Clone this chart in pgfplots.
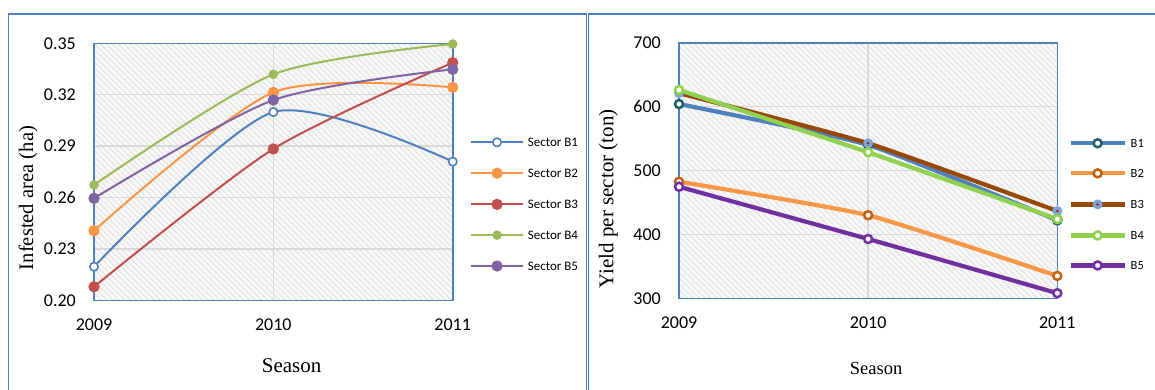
\documentclass[border=0pt]{standalone}
\usepackage{pgfplots}
\pgfplotsset{compat=1.18}
\usepackage{fontspec}
\setmainfont{Liberation Serif}
\newfontfamily\carlito{Carlito}
\usetikzlibrary{patterns.meta}

\definecolor{frameblue}{RGB}{79,129,189}
\definecolor{gridgray}{RGB}{217,217,217}
\definecolor{bggray}{RGB}{248,248,248}
\definecolor{hatchgray}{RGB}{228,228,228}
% left panel series
\definecolor{lB1}{RGB}{79,129,189}
\definecolor{lB2}{RGB}{247,150,70}
\definecolor{lB3}{RGB}{192,80,77}
\definecolor{lB4}{RGB}{155,187,89}
\definecolor{lB5}{RGB}{128,100,162}
% right panel series
\definecolor{rB1}{RGB}{79,129,189}
\definecolor{rB1e}{RGB}{33,95,110}
\definecolor{rB2}{RGB}{247,150,70}
\definecolor{rB2e}{RGB}{197,96,16}
\definecolor{rB3}{RGB}{152,72,7}
\definecolor{rB3f}{RGB}{125,165,214}
\definecolor{rB3d}{RGB}{160,40,42}
\definecolor{rB4}{RGB}{146,208,80}
\definecolor{rB5}{RGB}{112,48,160}

\pgfdeclareplotmark{bthree}{%
  \pgfpathcircle{\pgfpointorigin}{5pt}%
  \pgfsetfillcolor{rB3f}\pgfusepathqfill
  \pgfpathcircle{\pgfpointorigin}{1.5pt}%
  \pgfsetfillcolor{rB3d}\pgfusepathqfill}

\pgfplotsset{
  excel/.style={
    scale only axis, clip=false,
    axis line style={draw=frameblue, line width=1.6pt},
    grid=major, major grid style={draw=gridgray, line width=1.4pt},
    major tick length=0pt, tick style={draw=none},
    axis background/.style={fill=bggray, postaction={pattern={Lines[angle=-45,distance=4.2pt,line width=1.1pt]}, pattern color=hatchgray}},
    /pgf/number format/assume math mode=true,
    ticklabel style={font=\carlito\fontsize{18}{21}\selectfont},
    yticklabel style={anchor=east, inner sep=0pt, xshift=-18pt},
    xticklabel style={anchor=north, inner sep=0pt, yshift=-18.5pt},
    xtick={2009,2010,2011}, xticklabels={2009,2010,2011},
    xmin=2009, xmax=2011,
    legend cell align=left,
    legend style={draw=none, fill=none, inner sep=0pt, anchor=west, row sep=22pt, column sep=4pt, nodes={inner sep=0pt, text depth=0pt}},
  },
}

\begin{document}
\begin{tikzpicture}
\useasboundingbox (0pt,0pt) rectangle (1155pt,389pt);
\draw[frameblue, line width=1.5pt] (8.3pt,-20pt) -- (8.3pt,375pt) -- (586.6pt,375pt) -- (586.6pt,-20pt);
\draw[frameblue, line width=1.5pt] (588.6pt,-20pt) -- (588.6pt,375pt) -- (1170pt,375pt);

\begin{axis}[excel,
  at={(94pt,88.5pt)}, anchor=south west,
  width=358.7pt, height=257.2pt,
  ymin=0.20, ymax=0.35,
  ytick={0.20,0.23,0.26,0.29,0.32,0.35},
  yticklabel style={/pgf/number format/.cd, fixed, fixed zerofill, precision=2},
  xlabel={Season},
  xlabel style={at={(rel axis cs:0.551,-0.2547)}, anchor=center, font=\fontsize{21}{24}\selectfont},
  ylabel={Infested area (ha)},
  ylabel style={at={(rel axis cs:-0.184,0.3985)}, anchor=center, font=\fontsize{20.6}{24}\selectfont},
  legend style={at={(rel axis cs:1.0482,0.3738)}, font=\carlito\fontsize{13}{15}\selectfont},
  legend image code/.code={\draw[mark repeat=2,mark phase=2,#1] plot coordinates {(0pt,0pt) (25.85pt,0pt) (51.7pt,0pt)};},
]
\addplot[color=lB1, line width=2pt, smooth, tension=0.45, mark=*, mark size=4.2pt, mark options={fill=white, draw=lB1, line width=1.6pt}]
  coordinates {(2009,0.2197) (2010,0.3099) (2011,0.2810)};
\addplot[color=lB2, line width=2pt, smooth, tension=0.45, mark=*, mark size=4.6pt, mark options={fill=lB2, draw=lB2}]
  coordinates {(2009,0.2407) (2010,0.3214) (2011,0.3243)};
\addplot[color=lB3, line width=2pt, smooth, tension=0.45, mark=*, mark size=4.6pt, mark options={fill=lB3, draw=lB3}]
  coordinates {(2009,0.2080) (2010,0.2884) (2011,0.3387)};
\addplot[color=lB4, line width=2pt, smooth, tension=0.45, mark=*, mark size=3.7pt, mark options={fill=lB4, draw=lB4}]
  coordinates {(2009,0.2674) (2010,0.3319) (2011,0.3496)};
\addplot[color=lB5, line width=2pt, smooth, tension=0.45, mark=*, mark size=4.6pt, mark options={fill=lB5, draw=lB5}]
  coordinates {(2009,0.2596) (2010,0.3169) (2011,0.3348)};
\legend{Sector B1,Sector B2,Sector B3,Sector B4,Sector B5}
\end{axis}

\begin{axis}[excel,
  at={(679pt,90.7pt)}, anchor=south west,
  width=378.3pt, height=255.6pt,
  ymin=300, ymax=700,
  ytick={300,400,500,600,700},
  xlabel={Season},
  xlabel style={at={(rel axis cs:0.521,-0.2739)}, anchor=center, font=\fontsize{18.5}{22}\selectfont},
  ylabel={Yield per sector (ton)},
  ylabel style={at={(rel axis cs:-0.1869,0.389)}, anchor=center, font=\fontsize{21}{24}\selectfont},
  legend style={at={(rel axis cs:1.0291,0.3676)}, font=\carlito\fontsize{12.5}{15}\selectfont},
  legend image code/.code={\draw[mark repeat=2,mark phase=2,#1] plot coordinates {(0pt,0pt) (27pt,0pt) (54pt,0pt)};},
]
\addplot[color=rB1, line width=4.2pt, smooth, tension=0.3, mark=*, mark size=4pt, mark options={fill=white, draw=rB1e, line width=2.5pt}]
  coordinates {(2009,604) (2010,540) (2011,422)};
\addplot[color=rB2, line width=4.2pt, smooth, tension=0.3, mark=*, mark size=4pt, mark options={fill=white, draw=rB2e, line width=2.5pt}]
  coordinates {(2009,482.5) (2010,430) (2011,335)};
\addplot[color=rB3, line width=4.2pt, smooth, tension=0.3, mark=bthree]
  coordinates {(2009,621) (2010,542.6) (2011,436.6)};
\addplot[color=rB4, line width=4.2pt, smooth, tension=0.3, mark=*, mark size=4pt, mark options={fill=white, draw=rB4, line width=2.5pt}]
  coordinates {(2009,626) (2010,528.5) (2011,424)};
\addplot[color=rB5, line width=4.2pt, smooth, tension=0.3, mark=*, mark size=4pt, mark options={fill=white, draw=rB5, line width=2.5pt}]
  coordinates {(2009,474.6) (2010,392.8) (2011,308)};
\legend{B1,B2,B3,B4,B5}
\end{axis}
\end{tikzpicture}
\end{document}
